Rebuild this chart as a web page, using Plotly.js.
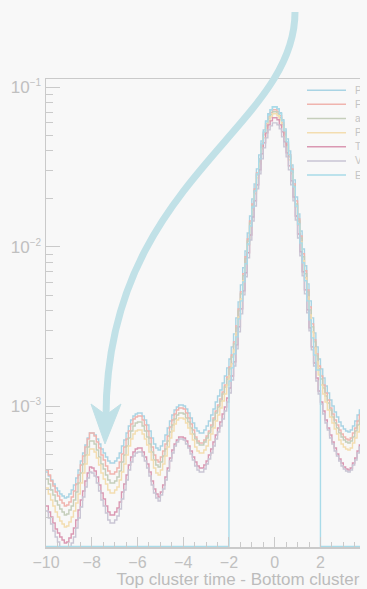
<!DOCTYPE html>
<html>
<head>
<meta charset="utf-8">
<script src="https://cdn.plot.ly/plotly-3.0.1.min.js"></script>
<style>
  html, body { margin: 0; padding: 0; background: #f8f8f8; overflow: hidden; width: 367px; height: 589px; }
  #frame { width: 360px; height: 589px; overflow: hidden; }
  #chart { width: 520px; height: 589px; }
</style>
</head>
<body>
<div id="frame"><div id="chart"></div></div>
<script>
// Histogram binning: 0.1 ns bins starting at -10 ns
const binLow = -10;
const binWidth = 0.1;

const seriesNames = ["Pass 1", "Final selection", "all hits", "Preselection", "Trigger", "Veto", "Event window"];

const pass1 = [
  3.885e-4, 3.667e-4, 3.461e-4, 3.267e-4, 3.083e-4, 2.953e-4, 2.828e-4, 2.748e-4, 2.669e-4,
  2.708e-4, 2.828e-4, 2.995e-4, 3.220e-4, 3.562e-4, 3.998e-4, 4.553e-4, 5.110e-4, 5.737e-4, 6.346e-4, 6.822e-4,
  6.822e-4, 6.628e-4, 6.255e-4, 5.821e-4, 5.414e-4, 5.110e-4, 4.824e-4, 4.553e-4, 4.424e-4, 4.424e-4,
  4.553e-4, 4.755e-4, 5.110e-4, 5.655e-4, 6.165e-4, 6.822e-4, 7.547e-4, 8.230e-4, 8.718e-4, 8.973e-4, 9.104e-4,
  9.104e-4, 8.718e-4, 8.230e-4, 7.656e-4, 7.021e-4, 6.346e-4, 5.821e-4, 5.493e-4, 5.337e-4,
  5.655e-4, 6.077e-4, 6.628e-4, 7.331e-4, 8.112e-4, 8.845e-4, 9.507e-4, 9.928e-4, 1.022e-3, 1.022e-3,
  1.007e-3, 9.645e-4, 9.104e-4, 8.471e-4, 7.880e-4, 7.331e-4, 7.021e-4, 6.822e-4, 6.822e-4,
  7.123e-4, 7.547e-4, 8.112e-4, 8.845e-4, 9.645e-4, 1.067e-3, 1.164e-3, 1.269e-3, 1.405e-3, 1.554e-3,
  1.745e-3, 1.987e-3, 2.363e-3, 2.852e-3, 3.594e-3, 4.529e-3, 5.791e-3, 7.404e-3, 9.439e-3, 1.224e-2,
  1.566e-2, 2.002e-2, 2.486e-2, 3.088e-2, 3.781e-2, 4.629e-2, 5.427e-2, 6.181e-2, 6.839e-2, 7.246e-2, 7.567e-2,
  7.567e-2, 7.351e-2, 6.938e-2, 6.271e-2, 5.506e-2, 4.765e-2, 4.006e-2, 3.272e-2, 2.634e-2, 2.060e-2,
  1.611e-2, 1.260e-2, 9.715e-3, 7.622e-3, 5.875e-3, 4.595e-3, 3.594e-3, 2.894e-3, 2.363e-3, 1.987e-3,
  1.720e-3, 1.510e-3, 1.345e-3, 1.216e-3, 1.099e-3, 1.007e-3, 9.236e-4, 8.594e-4, 7.995e-4, 7.547e-4,
  7.226e-4, 7.021e-4, 6.921e-4,
  7.123e-4, 7.547e-4, 8.112e-4, 8.845e-4, 9.507e-4, 1.007e-3, 1.052e-3
];
const finalSel = [
  3.998e-4, 3.720e-4, 3.412e-4, 3.174e-4, 2.911e-4, 2.748e-4, 2.593e-4, 2.484e-4, 2.379e-4,
  2.413e-4, 2.520e-4, 2.708e-4, 2.953e-4, 3.267e-4, 3.720e-4, 4.298e-4, 4.893e-4, 5.573e-4, 6.255e-4, 6.822e-4,
  6.822e-4, 6.533e-4, 5.991e-4, 5.493e-4, 4.964e-4, 4.620e-4, 4.236e-4, 3.941e-4, 3.774e-4, 3.774e-4,
  3.885e-4, 4.115e-4, 4.488e-4, 5.036e-4, 5.573e-4, 6.255e-4, 7.021e-4, 7.767e-4, 8.349e-4, 8.594e-4, 8.718e-4,
  8.718e-4, 8.230e-4, 7.656e-4, 7.021e-4, 6.346e-4, 5.573e-4, 4.964e-4, 4.620e-4, 4.488e-4,
  4.824e-4, 5.260e-4, 5.821e-4, 6.533e-4, 7.438e-4, 8.230e-4, 8.973e-4, 9.507e-4, 9.786e-4, 9.786e-4,
  9.645e-4, 9.104e-4, 8.471e-4, 7.767e-4, 7.123e-4, 6.438e-4, 6.077e-4, 5.905e-4, 5.905e-4,
  6.165e-4, 6.533e-4, 7.021e-4, 7.656e-4, 8.471e-4, 9.371e-4, 1.022e-3, 1.115e-3, 1.233e-3, 1.365e-3,
  1.532e-3, 1.770e-3, 2.105e-3, 2.541e-3, 3.202e-3, 4.094e-3, 5.234e-3, 6.789e-3, 8.680e-3, 1.123e-2,
  1.456e-2, 1.862e-2, 2.313e-2, 2.915e-2, 3.569e-2, 4.369e-2, 5.196e-2, 5.918e-2, 6.548e-2, 6.938e-2, 7.246e-2,
  7.246e-2, 7.039e-2, 6.644e-2, 6.005e-2, 5.272e-2, 4.497e-2, 3.781e-2, 3.088e-2, 2.486e-2, 1.945e-2,
  1.499e-2, 1.172e-2, 9.065e-3, 7.090e-3, 5.387e-3, 4.213e-3, 3.296e-3, 2.615e-3, 2.136e-3, 1.796e-3,
  1.554e-3, 1.365e-3, 1.216e-3, 1.099e-3, 9.786e-4, 8.973e-4, 8.230e-4, 7.656e-4, 7.123e-4, 6.724e-4,
  6.438e-4, 6.255e-4, 6.165e-4,
  6.346e-4, 6.822e-4, 7.331e-4, 8.112e-4, 8.845e-4, 9.371e-4, 9.786e-4
];
const allHits = [
  3.511e-4, 3.267e-4, 2.995e-4, 2.788e-4, 2.556e-4, 2.413e-4, 2.277e-4, 2.181e-4, 2.089e-4,
  2.119e-4, 2.245e-4, 2.379e-4, 2.593e-4, 2.911e-4, 3.315e-4, 3.829e-4, 4.360e-4, 4.964e-4, 5.573e-4, 6.077e-4,
  6.077e-4, 5.821e-4, 5.337e-4, 4.824e-4, 4.360e-4, 4.056e-4, 3.720e-4, 3.461e-4, 3.315e-4, 3.315e-4,
  3.412e-4, 3.614e-4, 3.941e-4, 4.488e-4, 4.964e-4, 5.655e-4, 6.346e-4, 7.021e-4, 7.547e-4, 7.880e-4, 7.995e-4,
  7.995e-4, 7.547e-4, 7.021e-4, 6.438e-4, 5.821e-4, 5.184e-4, 4.620e-4, 4.298e-4, 4.175e-4,
  4.488e-4, 4.893e-4, 5.414e-4, 6.077e-4, 6.921e-4, 7.656e-4, 8.349e-4, 8.845e-4, 9.104e-4, 9.104e-4,
  8.973e-4, 8.471e-4, 7.995e-4, 7.331e-4, 6.724e-4, 6.255e-4, 5.905e-4, 5.737e-4, 5.737e-4,
  5.991e-4, 6.346e-4, 6.822e-4, 7.438e-4, 8.230e-4, 9.104e-4, 9.928e-4, 1.083e-3, 1.198e-3, 1.326e-3,
  1.488e-3, 1.720e-3, 2.045e-3, 2.468e-3, 3.110e-3, 3.977e-3, 5.085e-3, 6.596e-3, 8.433e-3, 1.091e-2,
  1.415e-2, 1.809e-2, 2.247e-2, 2.832e-2, 3.467e-2, 4.244e-2, 5.049e-2, 5.750e-2, 6.362e-2, 6.741e-2, 7.039e-2,
  7.039e-2, 6.839e-2, 6.455e-2, 5.834e-2, 5.122e-2, 4.369e-2, 3.673e-2, 3.000e-2, 2.415e-2, 1.862e-2,
  1.456e-2, 1.139e-2, 8.680e-3, 6.789e-3, 5.234e-3, 4.035e-3, 3.156e-3, 2.541e-3, 2.075e-3, 1.720e-3,
  1.488e-3, 1.307e-3, 1.164e-3, 1.052e-3, 9.507e-4, 8.594e-4, 7.880e-4, 7.331e-4, 6.822e-4, 6.438e-4,
  6.165e-4, 5.991e-4, 5.905e-4,
  6.077e-4, 6.438e-4, 7.021e-4, 7.656e-4, 8.230e-4, 8.845e-4, 9.236e-4
];
const presel = [
  3.083e-4, 2.828e-4, 2.593e-4, 2.379e-4, 2.181e-4, 2.029e-4, 1.915e-4, 1.834e-4, 1.756e-4,
  1.782e-4, 1.888e-4, 2.029e-4, 2.212e-4, 2.484e-4, 2.828e-4, 3.315e-4, 3.829e-4, 4.360e-4, 4.964e-4, 5.414e-4,
  5.414e-4, 5.184e-4, 4.755e-4, 4.298e-4, 3.829e-4, 3.511e-4, 3.267e-4, 2.995e-4, 2.869e-4, 2.869e-4,
  2.995e-4, 3.128e-4, 3.461e-4, 3.885e-4, 4.360e-4, 4.964e-4, 5.655e-4, 6.255e-4, 6.724e-4, 7.021e-4, 7.123e-4,
  7.123e-4, 6.724e-4, 6.255e-4, 5.737e-4, 5.184e-4, 4.620e-4, 4.115e-4, 3.829e-4, 3.720e-4,
  3.998e-4, 4.360e-4, 4.893e-4, 5.573e-4, 6.346e-4, 7.021e-4, 7.767e-4, 8.230e-4, 8.471e-4, 8.471e-4,
  8.349e-4, 7.880e-4, 7.331e-4, 6.724e-4, 6.165e-4, 5.573e-4, 5.260e-4, 5.110e-4, 5.110e-4,
  5.337e-4, 5.655e-4, 6.165e-4, 6.724e-4, 7.331e-4, 8.112e-4, 8.845e-4, 9.786e-4, 1.083e-3, 1.198e-3,
  1.365e-3, 1.554e-3, 1.849e-3, 2.263e-3, 2.894e-3, 3.646e-3, 4.730e-3, 6.136e-3, 7.845e-3, 1.029e-2,
  1.335e-2, 1.707e-2, 2.152e-2, 2.711e-2, 3.320e-2, 4.123e-2, 4.834e-2, 5.586e-2, 6.181e-2, 6.548e-2, 6.839e-2,
  6.839e-2, 6.644e-2, 6.271e-2, 5.667e-2, 4.904e-2, 4.244e-2, 3.517e-2, 2.873e-2, 2.313e-2, 1.783e-2,
  1.375e-2, 1.075e-2, 8.193e-3, 6.408e-3, 4.869e-3, 3.754e-3, 2.936e-3, 2.330e-3, 1.903e-3, 1.577e-3,
  1.365e-3, 1.198e-3, 1.067e-3, 9.507e-4, 8.594e-4, 7.880e-4, 7.226e-4, 6.724e-4, 6.165e-4, 5.821e-4,
  5.573e-4, 5.414e-4, 5.337e-4,
  5.493e-4, 5.905e-4, 6.346e-4, 6.921e-4, 7.547e-4, 7.995e-4, 8.349e-4
];
const trigger = [
  2.379e-4, 2.181e-4, 2.029e-4, 1.861e-4, 1.706e-4, 1.611e-4, 1.520e-4, 1.456e-4, 1.394e-4,
  1.414e-4, 1.498e-4, 1.587e-4, 1.731e-4, 1.943e-4, 2.245e-4, 2.593e-4, 2.953e-4, 3.412e-4, 3.829e-4, 4.175e-4,
  4.115e-4, 3.941e-4, 3.614e-4, 3.220e-4, 2.869e-4, 2.631e-4, 2.379e-4, 2.181e-4, 2.089e-4, 2.089e-4,
  2.181e-4, 2.310e-4, 2.520e-4, 2.911e-4, 3.267e-4, 3.720e-4, 4.298e-4, 4.824e-4, 5.184e-4, 5.414e-4, 5.493e-4,
  5.493e-4, 5.184e-4, 4.824e-4, 4.360e-4, 3.885e-4, 3.412e-4, 3.039e-4, 2.828e-4, 2.708e-4,
  2.911e-4, 3.220e-4, 3.614e-4, 4.115e-4, 4.755e-4, 5.337e-4, 5.821e-4, 6.165e-4, 6.438e-4, 6.438e-4,
  6.346e-4, 6.077e-4, 5.655e-4, 5.260e-4, 4.824e-4, 4.488e-4, 4.236e-4, 4.115e-4, 4.115e-4,
  4.298e-4, 4.553e-4, 4.964e-4, 5.414e-4, 5.991e-4, 6.628e-4, 7.331e-4, 7.995e-4, 8.973e-4, 9.928e-4,
  1.131e-3, 1.307e-3, 1.554e-3, 1.903e-3, 2.433e-3, 3.156e-3, 4.094e-3, 5.310e-3, 6.888e-3, 9.197e-3,
  1.190e-2, 1.543e-2, 1.945e-2, 2.451e-2, 3.044e-2, 3.836e-2, 4.497e-2, 5.196e-2, 5.834e-2, 6.181e-2, 6.455e-2,
  6.455e-2, 6.271e-2, 5.834e-2, 5.272e-2, 4.562e-2, 3.892e-2, 3.225e-2, 2.597e-2, 2.060e-2, 1.566e-2,
  1.207e-2, 9.330e-3, 6.988e-3, 5.387e-3, 4.035e-3, 3.110e-3, 2.363e-3, 1.875e-3, 1.510e-3, 1.251e-3,
  1.067e-3, 9.371e-4, 8.230e-4, 7.331e-4, 6.628e-4, 5.991e-4, 5.493e-4, 5.036e-4, 4.687e-4, 4.424e-4,
  4.175e-4, 4.056e-4, 3.998e-4,
  4.115e-4, 4.424e-4, 4.755e-4, 5.260e-4, 5.737e-4, 6.077e-4, 6.438e-4
];
const veto = [
  2.212e-4, 2.000e-4, 1.834e-4, 1.658e-4, 1.520e-4, 1.414e-4, 1.316e-4, 1.260e-4, 1.206e-4,
  1.224e-4, 1.297e-4, 1.394e-4, 1.520e-4, 1.731e-4, 2.000e-4, 2.344e-4, 2.708e-4, 3.128e-4, 3.562e-4, 3.885e-4,
  3.829e-4, 3.667e-4, 3.315e-4, 2.953e-4, 2.593e-4, 2.379e-4, 2.150e-4, 1.943e-4, 1.861e-4, 1.861e-4,
  1.943e-4, 2.059e-4, 2.277e-4, 2.631e-4, 2.995e-4, 3.461e-4, 3.998e-4, 4.488e-4, 4.893e-4, 5.110e-4, 5.184e-4,
  5.184e-4, 4.893e-4, 4.553e-4, 4.115e-4, 3.667e-4, 3.220e-4, 2.869e-4, 2.669e-4, 2.556e-4,
  2.788e-4, 3.039e-4, 3.461e-4, 3.941e-4, 4.553e-4, 5.110e-4, 5.655e-4, 5.991e-4, 6.255e-4, 6.255e-4,
  6.165e-4, 5.821e-4, 5.493e-4, 5.036e-4, 4.620e-4, 4.236e-4, 3.998e-4, 3.885e-4, 3.885e-4,
  4.056e-4, 4.360e-4, 4.687e-4, 5.110e-4, 5.655e-4, 6.255e-4, 6.921e-4, 7.547e-4, 8.349e-4, 9.371e-4,
  1.067e-3, 1.216e-3, 1.467e-3, 1.796e-3, 2.296e-3, 2.936e-3, 3.808e-3, 5.012e-3, 6.501e-3, 8.555e-3,
  1.107e-2, 1.456e-2, 1.809e-2, 2.313e-2, 2.873e-2, 3.568e-2, 4.183e-2, 4.834e-2, 5.427e-2, 5.750e-2, 6.005e-2,
  6.005e-2, 5.834e-2, 5.506e-2, 4.904e-2, 4.244e-2, 3.673e-2, 3.044e-2, 2.451e-2, 1.945e-2, 1.478e-2,
  1.139e-2, 8.807e-3, 6.596e-3, 5.085e-3, 3.863e-3, 2.979e-3, 2.263e-3, 1.796e-3, 1.446e-3, 1.198e-3,
  1.037e-3, 8.973e-4, 7.880e-4, 7.123e-4, 6.346e-4, 5.821e-4, 5.260e-4, 4.893e-4, 4.553e-4, 4.236e-4,
  4.056e-4, 3.941e-4, 3.885e-4,
  3.998e-4, 4.298e-4, 4.620e-4, 5.110e-4, 5.573e-4, 5.905e-4, 6.165e-4
];
// Only filled inside the |dt| < 2 ns window; empty bins elsewhere
const eventWindow = [
  0, 0, 0, 0, 0, 0, 0, 0, 0, 0, 0, 0, 0, 0, 0, 0, 0, 0, 0, 0,
  0, 0, 0, 0, 0, 0, 0, 0, 0, 0, 0, 0, 0, 0, 0, 0, 0, 0, 0, 0,
  0, 0, 0, 0, 0, 0, 0, 0, 0, 0, 0, 0, 0, 0, 0, 0, 0, 0, 0, 0,
  0, 0, 0, 0, 0, 0, 0, 0, 0, 0, 0, 0, 0, 0, 0, 0, 0, 0, 0, 0,
  1.446e-3, 1.745e-3, 2.136e-3, 2.731e-3, 3.543e-3, 4.595e-3, 6.047e-3, 7.845e-3, 1.044e-2, 1.355e-2,
  1.783e-2, 2.247e-2, 2.873e-2, 3.568e-2, 4.432e-2, 5.272e-2, 6.092e-2, 6.741e-2, 7.246e-2, 7.567e-2,
  7.567e-2, 7.351e-2, 6.839e-2, 6.181e-2, 5.349e-2, 4.562e-2, 3.781e-2, 3.000e-2, 2.381e-2, 1.809e-2,
  1.394e-2, 1.060e-2, 7.959e-3, 6.136e-3, 4.595e-3, 3.492e-3, 2.692e-3, 2.105e-3, 1.695e-3, 1.695e-3,
  0, 0, 0, 0, 0, 0, 0, 0, 0, 0, 0, 0, 0, 0, 0, 0, 0, 0, 0, 0
];

const seriesValues = [pass1, finalSel, allHits, presel, trigger, veto, eventWindow];
const seriesColors = ["#a9d4e4", "#f0b4ae", "#c5cebb", "#f3ddb0", "#da98b2", "#c9c5d4", "#a9dbe9"];

// Frame geometry (pixels)
const M = { l: 46, r: 21, t: 79, b: 42 };
const FIG_W = 520, FIG_H = 589;
const PW = FIG_W - M.l - M.r, PH = FIG_H - M.t - M.b;
const px = x => (x - M.l) / PW;
const py = y => (FIG_H - M.b - y) / PH;

// axis ranges (y in log10 units)
const xRange = [-10, 9.807];
const yRange = [-3.881, -0.9467];
// empty bins sit on the bottom edge of the log-scale frame
const floorValue = Math.pow(10, yRange[0] + 0.003);

const edges = [];
for (let i = 0; i <= pass1.length; i++) edges.push(+(binLow + i * binWidth).toFixed(4));

const traces = seriesValues.map((vals, k) => {
  const y = vals.map(v => (v > 0 ? v : floorValue));
  y.push(y[y.length - 1]);
  return {
    type: "scatter",
    mode: "lines",
    name: seriesNames[k],
    x: edges,
    y: y,
    line: { shape: "hv", color: seriesColors[k], width: 1.4 },
    showlegend: false,
    hoverinfo: "skip"
  };
});

// Legend in the upper-right corner of the frame
const shapes = [];
const annotations = [];
seriesNames.forEach((name, k) => {
  const yy = py(90.2 + 14.15 * k);
  shapes.push({
    type: "line", xref: "paper", yref: "paper",
    x0: px(307), x1: px(346), y0: yy, y1: yy,
    line: { color: seriesColors[k], width: 1.5 }
  });
  annotations.push({
    xref: "paper", yref: "paper", x: px(353), y: yy,
    xanchor: "left", yanchor: "middle", showarrow: false,
    text: name, font: { family: "Liberation Sans, Arial, sans-serif", size: 10, color: "#c4c4c4" }
  });
});

// Curved pointer arrow
const a0 = [295, 12], a1 = [295, 130], a2 = [106, 180], a3 = [106, 417];
shapes.push({
  type: "path", xref: "paper", yref: "paper", layer: "above",
  path: `M ${px(a0[0])},${py(a0[1])} C ${px(a1[0])},${py(a1[1])} ${px(a2[0])},${py(a2[1])} ${px(a3[0])},${py(a3[1])}`,
  line: { color: "#c1e1e7", width: 7 }
});
shapes.push({
  type: "path", xref: "paper", yref: "paper", layer: "above",
  path: `M ${px(105)},${py(444)} L ${px(91)},${py(404)} L ${px(106)},${py(415)} L ${px(121)},${py(404)} Z`,
  fillcolor: "#c1e1e7", line: { color: "#c1e1e7", width: 1 }
});

const axisColor = "#cacaca";
const fontFamily = "Liberation Sans, Arial, sans-serif";

// decade labels and the 2..9 sub-decade tick positions
const decadeVals = [1e-3, 1e-2, 1e-1];
const decadeText = ["−3", "−2", "−1"].map(e => `10<sup><span style="font-size:10px">${e}</span></sup>`);
const subDecadeVals = [];
[1e-4, 1e-3, 1e-2].forEach(d => { for (let m = 2; m <= 9; m++) subDecadeVals.push(m * d); });

const layout = {
  width: FIG_W, height: FIG_H,
  margin: M,
  paper_bgcolor: "#f8f8f8",
  plot_bgcolor: "#f8f8f8",
  showlegend: false,
  xaxis: {
    range: xRange,
    showline: true, mirror: true, linecolor: axisColor, linewidth: 1.5,
    showgrid: false, zeroline: false,
    ticks: "inside", ticklen: 10, tickwidth: 1, tickcolor: axisColor,
    tick0: 0, dtick: 2,
    minor: { ticks: "inside", ticklen: 5, dtick: 0.5, tickcolor: axisColor, showgrid: false },
    tickfont: { family: fontFamily, size: 16, color: "#c0c0c0" },
    title: { text: "Top cluster time - Bottom cluster time [ns]", standoff: 6,
             font: { family: fontFamily, size: 17, color: "#bcbcbc" } }
  },
  yaxis: {
    type: "log",
    range: yRange,
    showline: true, mirror: true, linecolor: axisColor, linewidth: 1.5,
    showgrid: false, zeroline: false,
    ticks: "inside", ticklen: 14, tickwidth: 1, tickcolor: axisColor,
    tickmode: "array", tickvals: decadeVals, ticktext: decadeText,
    minor: { ticks: "inside", ticklen: 7, tickmode: "array", tickvals: subDecadeVals, tickcolor: axisColor, showgrid: false },
    tickfont: { family: fontFamily, size: 17, color: "#c0c0c0" }
  },
  shapes: shapes,
  annotations: annotations
};

Plotly.newPlot("chart", traces, layout, { displayModeBar: false, staticPlot: true });
</script>
</body>
</html>
